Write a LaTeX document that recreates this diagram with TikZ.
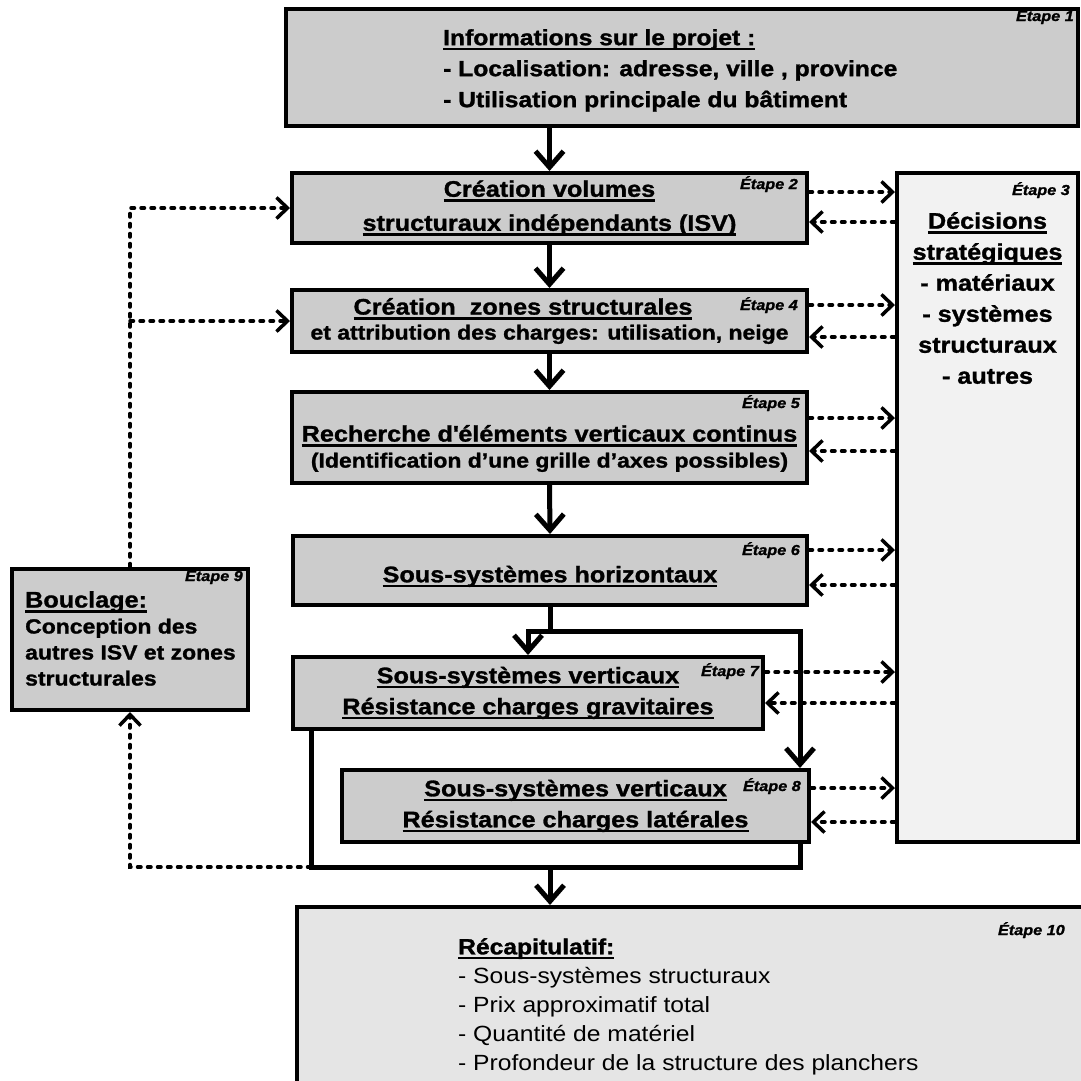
\documentclass[tikz,border=0pt]{standalone}
\usepackage{fontspec}
\setmainfont{Liberation Sans}[FakeStretch=1.12, BoldFeatures={FakeBold=1.3}, BoldItalicFeatures={FakeBold=1.3}]
\usetikzlibrary{arrows.meta,calc}

\definecolor{boxgray}{gray}{0.80}
\definecolor{palegray}{gray}{0.95}
\definecolor{recapgray}{gray}{0.90}

\newcommand{\grostxt}{\fontsize{22.5}{31}\selectfont\bfseries}
\newcommand{\petittxt}{\fontsize{20.5}{26}\selectfont\bfseries}
\newsavebox{\soulbox}
\newcommand{\souligne}[1]{\sbox{\soulbox}{#1}\rlap{\rule[-5pt]{\wd\soulbox}{2.4pt}}\usebox{\soulbox}}

\tikzset{
  stepbox/.style={draw, line width=4pt, fill=boxgray, inner sep=0pt},
  txt/.style={inner sep=0pt, align=center, font=\grostxt},
  etape/.style={inner sep=0pt, font=\fontsize{14.5}{16}\selectfont\bfseries\itshape},
  mainflow/.style={line width=5pt, -{Straight Barb[length=16pt,width=28pt]}},
  flowline/.style={line width=5pt},
  dashflow/.style={line width=3.5pt, line cap=round, dash pattern=on 3.5pt off 6.5pt,
    -{Straight Barb[length=11pt,width=21pt]}}
}

\begin{document}
\begin{tikzpicture}[x=1pt,y=-1pt]
  \useasboundingbox (0,0) rectangle (1081,1080);

  % Boxes
  \node[stepbox, minimum width=792, minimum height=117] (b1) at (682,67.5) {};
  \node[stepbox, minimum width=515, minimum height=70] (b2) at (549.5,208) {};
  \node[stepbox, fill=palegray, minimum width=181, minimum height=669] (b3) at (987.5,507.5) {};
  \node[stepbox, minimum width=515, minimum height=62] (b4) at (549.5,321) {};
  \node[stepbox, minimum width=515, minimum height=91] (b5) at (549.5,437.5) {};
  \node[stepbox, minimum width=514, minimum height=69] (b6) at (550,570.5) {};
  \node[stepbox, minimum width=470, minimum height=72] (b7) at (528,693) {};
  \node[stepbox, minimum width=467, minimum height=72] (b8) at (575.5,806) {};
  \node[stepbox, minimum width=236, minimum height=141] (b9) at (130,639.5) {};
  \node[stepbox, fill=recapgray, minimum width=803, minimum height=193] (b10) at (698.5,1003.5) {};

  % Texts
  \node[txt, anchor=north west, align=left, font={\fontsize{22}{31}\selectfont\bfseries}] (t1) at (443,29)
    {\souligne{Informations sur le projet :}\\- Localisation: adresse, ville , province\\- Utilisation principale du bâtiment};
  \node[txt, font={\fontsize{22.5}{34}\selectfont\bfseries}] (t2) at (b2)
    {\souligne{Création volumes}\\\souligne{structuraux indépendants (ISV)}};
  \node[txt, anchor=north] (t3) at (b3.north |- 0,212)
    {\souligne{Décisions}\\\souligne{stratégiques}\\- matériaux\\- systèmes\\structuraux\\- autres};
  \node[txt, font={\fontsize{22.5}{25}\selectfont\bfseries}] (t4) at (b4)
    {\souligne{Création\ \ zones structurales}\rule{53pt}{0pt}\\{\petittxt et attribution des charges: utilisation, neige}};
  \node[txt, font={\fontsize{22.5}{26}\selectfont\bfseries}] (t5) at ($(b5)+(0,11)$)
    {\souligne{Recherche d\textquotesingle éléments verticaux continus}\\{\petittxt (Identification d’une grille d’axes possibles)}};
  \node[txt] (t6) at ($(b6)+(0,6)$) {\souligne{Sous-systèmes horizontaux}};
  \node[txt] (t7) at (b7) {\souligne{Sous-systèmes verticaux}\\\souligne{Résistance charges gravitaires}};
  \node[txt] (t8) at (b8) {\souligne{Sous-systèmes verticaux}\\\souligne{Résistance charges latérales}};
  \node[txt, anchor=north west, align=left, font=\petittxt] (t9) at (25,591)
    {{\grostxt\souligne{Bouclage:}}\\Conception des\\autres ISV et zones\\structurales};
  \node[txt, anchor=north west, align=left, font={\fontsize{22}{29}\selectfont}] (t10) at (458,938)
    {{\bfseries\souligne{Récapitulatif:}}\\- Sous-systèmes structuraux\\- Prix approximatif total\\- Quantité de matériel\\- Profondeur de la structure des planchers};

  % Etapes
  \foreach \b/\n/\dx/\dy in {b1/1/6/14, b2/2/11/18, b3/3/10/24, b4/4/11/22, b5/5/9/18,
                             b6/6/9/21, b7/7/6/21, b8/8/10/23, b9/9/7/14}
    \node[etape, anchor=base east] (e\n) at ($(\b.north east)+(-\dx,\dy)$) {Étape \n};
  \node[etape, anchor=base east] (e10) at (1065,935) {Étape 10};

  % Decisions (dashed)
  \foreach \b/\u/\d in {b2/192/222, b4/305/337, b5/418/451, b6/550/585, b7/672/703, b8/788/822}
    {
      \draw[dashflow] (\b.east |- 0,\u) -- (b3.west |- 0,\u);
      \draw[dashflow] (b3.west |- 0,\d) -- (\b.east |- 0,\d);
    }

  % Loop (dashed)
  \coordinate (jl) at ($(b7.south west)+(20,136)$);
  \coordinate (jr) at ($(b8.south east)+(-11,23)$);
  \draw[dashflow] (b9.north) |- (b2.west);
  \draw[dashflow] (b9.north |- b4.west) -- (b4.west);
  \draw[dashflow] (jl) -| (b9.south);

  % Main flow
  \draw[mainflow] (b2.north |- b1.south) -- (b2.north);
  \draw[mainflow] (b2.south) -- (b4.north);
  \draw[mainflow] (b4.south) -- (b5.north);
  \draw[mainflow] (b5.south) -- (b6.north);
  \coordinate (split) at ($(b6.south)+(0,24)$);
  \draw[flowline] (b6.south) -- (split);
  \draw[mainflow] (split) -| (b7.north);
  \draw[mainflow] (split) -| ($(b8.north east)+(-11,0)$);
  \draw[flowline] ($(b7.south west)+(20,0)$) -- (jl) -- (jr) -- (jr |- b8.south);
  \draw[mainflow] (jr -| b6.south) -- (b10.north -| b6.south);
\end{tikzpicture}
\end{document}
